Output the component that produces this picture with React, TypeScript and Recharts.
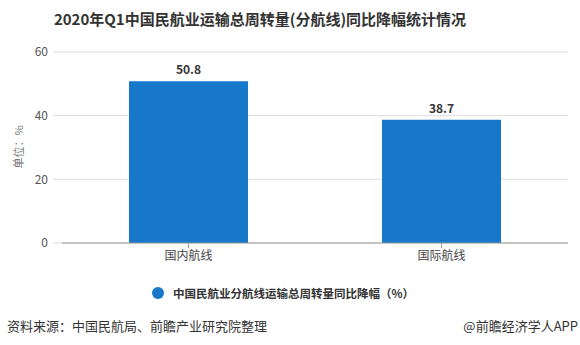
import React from 'react';
import { BarChart, Bar, XAxis, YAxis, CartesianGrid, LabelList } from 'recharts';

const categories = ['国内航线', '国际航线'];
const declines = [50.8, 38.7];
const yTicks = [0, 20, 40, 60];

const title = '2020年Q1中国民航业运输总周转量(分航线)同比降幅统计情况';
const seriesName = '中国民航业分航线运输总周转量同比降幅（%）';
const source = '资料来源：中国民航局、前瞻产业研究院整理';
const brand = '@前瞻经济学人APP';

const data = categories.map((name, i) => ({ name, value: declines[i] }));

const barColor = '#1777c8';
const font = '"Microsoft YaHei", "Noto Sans CJK SC", "Noto Sans", sans-serif';

export default function App() {
    return (
        <div style={{ position: 'absolute', left: 0, top: 0, width: 580, height: 345, background: '#fff', fontFamily: font }}>
            <div style={{ position: 'absolute', left: 0, width: 520, top: 8, textAlign: 'center', fontSize: 15, fontWeight: 'bold', color: '#333' }}>
                {title}
            </div>
            <div style={{ position: 'absolute', left: 18, top: 147, transform: 'translate(-50%, -50%) rotate(-90deg)', fontSize: 11, color: '#777', whiteSpace: 'nowrap' }}>
                单位：%
            </div>
            <div style={{ position: 'absolute', left: 0, top: 0 }}>
                <BarChart width={580} height={345} data={data} margin={{ top: 52, right: 12, left: 0, bottom: 72 }}>
                    <CartesianGrid vertical={false} stroke="#dcdcdc" />
                    <XAxis
                        dataKey="name"
                        height={30}
                        stroke="#9a9a9a"
                        tickSize={5}
                        tickMargin={3}
                        tick={{ fill: '#444', fontSize: 12, fontFamily: font }}
                    />
                    <YAxis
                        width={62}
                        domain={[0, 60]}
                        ticks={yTicks}
                        axisLine={false}
                        tickLine={{ stroke: '#dcdcdc' }}
                        tickSize={9}
                        tickMargin={5}
                        tick={{ fill: '#555', fontSize: 12, fontFamily: font }}
                    />
                    <Bar dataKey="value" fill={barColor} barSize={119} isAnimationActive={false}>
                        <LabelList dataKey="value" position="top" offset={7} style={{ fill: '#333', fontSize: 12, fontWeight: 'bold', fontFamily: font }} />
                    </Bar>
                </BarChart>
            </div>
            <div style={{ position: 'absolute', left: 152, top: 285, display: 'flex', alignItems: 'center' }}>
                <span style={{ width: 12, height: 12, borderRadius: 6, background: barColor, display: 'inline-block', marginRight: 9 }} />
                <span style={{ fontSize: 11.5, fontWeight: 'bold', color: '#333' }}>{seriesName}</span>
            </div>
            <div style={{ position: 'absolute', left: 7, top: 316, fontSize: 13, color: '#333' }}>{source}</div>
            <div style={{ position: 'absolute', right: 2, top: 316, fontSize: 13, color: '#333' }}>{brand}</div>
        </div>
    );
}
